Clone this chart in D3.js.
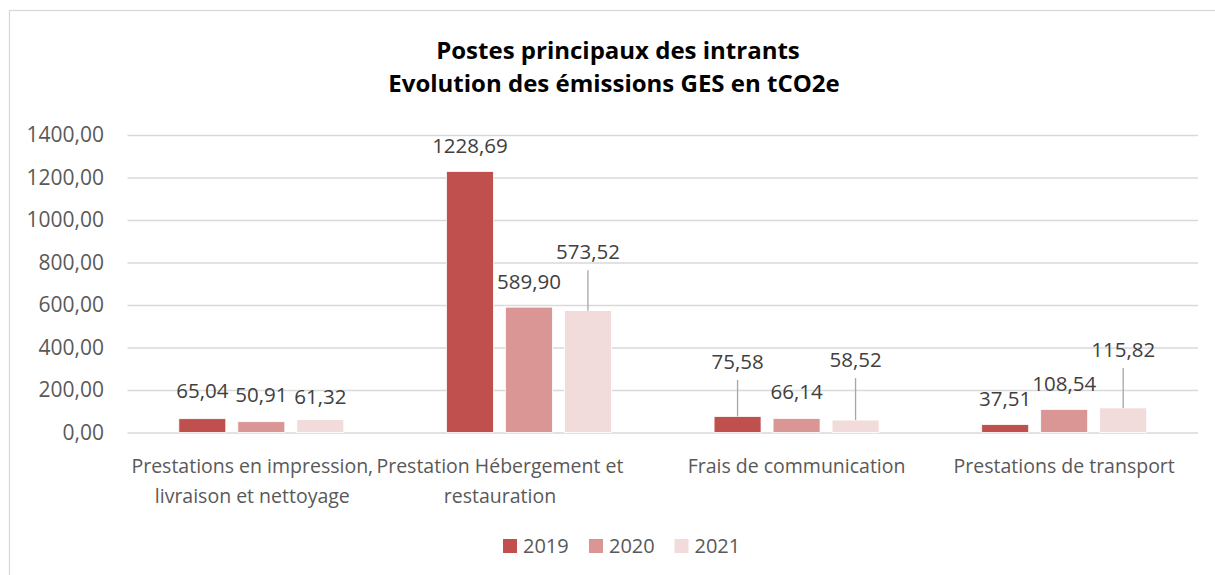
<!DOCTYPE html>
<html>
<head>
<meta charset="utf-8">
<script src="https://cdn.jsdelivr.net/npm/d3@7"></script>
<style>
  body { margin: 0; background: #fff; }
  text { font-family: "Open Sans", sans-serif; }
</style>
</head>
<body>
<div id="chart"></div>
<script>
// data
const categories = [
  "Prestations en impression, livraison et nettoyage",
  "Prestation Hébergement et restauration",
  "Frais de communication",
  "Prestations de transport"
];
const categoryLines = [
  ["Prestations en impression,", "livraison et nettoyage"],
  ["Prestation Hébergement et", "restauration"],
  ["Frais de communication"],
  ["Prestations de transport"]
];
const years = ["2019", "2020", "2021"];
const values2019 = [65.04, 1228.69, 75.58, 37.51];
const values2020 = [50.91, 589.90, 66.14, 108.54];
const values2021 = [61.32, 573.52, 58.52, 115.82];
const yTicks = [0, 200, 400, 600, 800, 1000, 1200, 1400];

const seriesValues = [values2019, values2020, values2021];
const colors = ["#C0504D", "#D99694", "#F2DCDB"];

// label placement (px above bar top), label shifts for wrapped axis labels
const labelGap = [
  [20.5, 19.5, 15.5],
  [18.5, 18, 51.5],
  [47.5, 19.5, 53],
  [18.5, 18.5, 51]
];
const axisLabelShift = [-9, -29, 0, 0];

const width = 1215, height = 575;
const margin = {top: 135, left: 127.5, right: 17, bottom: 142.5};
const plotW = width - margin.left - margin.right;
const plotH = height - margin.top - margin.bottom;

const fmt = v => d3.format(".2f")(v).replace(".", ",");

const x0 = d3.scaleBand().domain(categories).range([0, plotW]);
const groupW = 165;
const x1 = d3.scaleBand().domain(years).range([0, groupW]).paddingInner(12 / 59);
const y = d3.scaleLinear().domain([0, 1400]).range([plotH, 0]);

const svg = d3.select("#chart").append("svg")
  .attr("width", width)
  .attr("height", height);

// chart frame
svg.append("rect")
  .attr("x", 9.5).attr("y", 10.5)
  .attr("width", 1400).attr("height", 800)
  .attr("fill", "none")
  .attr("stroke", "#D9D9D9")
  .attr("stroke-width", 1.3);

// title
const title = svg.append("text")
  .attr("text-anchor", "middle")
  .attr("font-weight", "bold")
  .attr("font-size", 24)
  .attr("fill", "#000");
title.append("tspan").attr("x", 618).attr("y", 59).text("Postes principaux des intrants");
title.append("tspan").attr("x", 614).attr("y", 92).text("Evolution des émissions GES en tCO2e");

const g = svg.append("g")
  .attr("transform", `translate(${margin.left},${margin.top})`);

// y axis + gridlines
const yAxis = g.append("g")
  .call(d3.axisLeft(y).tickValues(yTicks).tickSize(-plotW).tickPadding(23.5).tickFormat(fmt));
yAxis.select(".domain").remove();
yAxis.selectAll("line").attr("stroke", "#D9D9D9").attr("stroke-width", 1.3);
yAxis.selectAll("text")
  .attr("fill", "#595959")
  .attr("font-size", 21)
  .style("font-family", "Open Sans, sans-serif");

// bars
const groups = g.selectAll(".cat")
  .data(categories)
  .join("g")
  .attr("class", "cat")
  .attr("transform", d => `translate(${x0(d) + (x0.bandwidth() - groupW) / 2},0)`);

groups.each(function(cat, ci) {
  const grp = d3.select(this);
  years.forEach((yr, si) => {
    const v = seriesValues[si][ci];
    const bx = x1(yr);
    const cx = bx + x1.bandwidth() / 2;
    const top = y(v);
    grp.append("rect")
      .attr("x", bx)
      .attr("y", top)
      .attr("width", x1.bandwidth())
      .attr("height", plotH - top)
      .attr("fill", colors[si])
      .attr("stroke", "#fff")
      .attr("stroke-width", 0.8);

    const gap = labelGap[ci][si];
    const base = top - gap;
    if (gap > 40) {
      grp.append("line")
        .attr("x1", cx).attr("x2", cx)
        .attr("y1", base + 11).attr("y2", top)
        .attr("stroke", "#A6A6A6")
        .attr("stroke-width", 1.3);
    }
    grp.append("text")
      .attr("x", cx)
      .attr("y", base)
      .attr("text-anchor", "middle")
      .attr("font-size", 20.5)
      .attr("fill", "#404040")
      .text(fmt(v));
  });
});

// category labels
const xAxis = g.append("g").attr("transform", `translate(0,${plotH})`);
categories.forEach((cat, i) => {
  const t = xAxis.append("text")
    .attr("text-anchor", "middle")
    .attr("font-size", 19.5)
    .attr("fill", "#595959");
  categoryLines[i].forEach((line, li) => {
    t.append("tspan")
      .attr("x", x0(cat) + x0.bandwidth() / 2 + axisLabelShift[i])
      .attr("y", 40.5 + li * 30)
      .text(line);
  });
});

// legend
const legend = svg.append("g").attr("transform", "translate(503,539)");
const legendX = [0, 86, 171.5];
years.forEach((yr, i) => {
  const item = legend.append("g").attr("transform", `translate(${legendX[i]},0)`);
  item.append("rect")
    .attr("width", 14).attr("height", 14)
    .attr("fill", colors[i]);
  item.append("text")
    .attr("x", 20).attr("y", 14)
    .attr("font-size", 20)
    .attr("fill", "#595959")
    .text(yr);
});
</script>
</body>
</html>
